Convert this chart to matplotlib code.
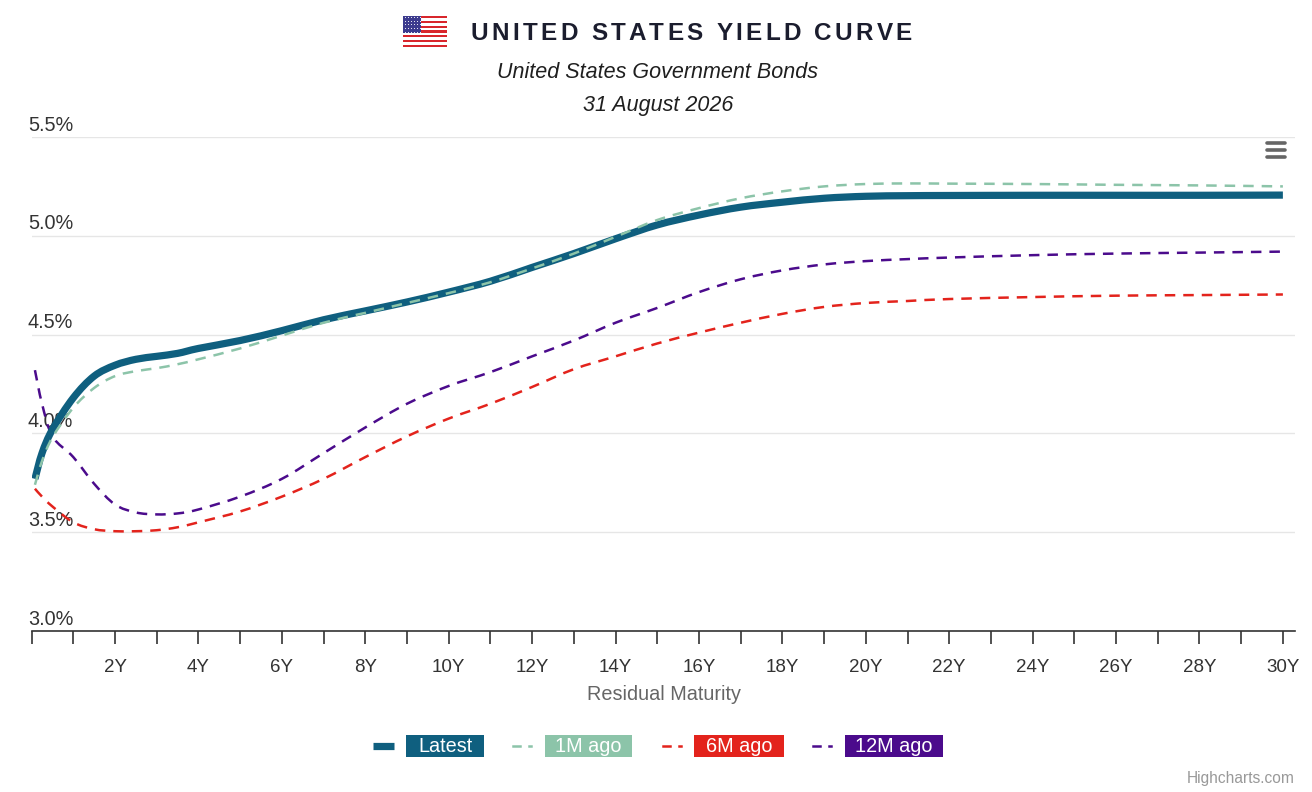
import matplotlib
matplotlib.use("Agg")
import matplotlib.pyplot as plt
from matplotlib.patches import Rectangle, PathPatch
from matplotlib.lines import Line2D
from matplotlib.path import Path
import numpy as np

# ---------------- data ----------------
maturity = [0.08, 0.25, 0.5, 1, 1.5, 2, 2.5, 3, 3.5, 4, 5, 6, 7, 8, 9, 10, 11, 12, 13, 14, 15,
            16, 17, 18, 19, 20, 21, 22, 24, 26, 28, 30]
latest = [3.77, 3.90, 4.02, 4.18, 4.29, 4.345, 4.375, 4.39, 4.405, 4.43, 4.47, 4.52, 4.575, 4.62,
          4.665, 4.715, 4.77, 4.84, 4.91, 4.985, 5.055, 5.105, 5.145, 5.17, 5.19, 5.20, 5.203,
          5.204, 5.205, 5.205, 5.205, 5.206]
m1_ago = [3.74, 3.86, 3.98, 4.13, 4.23, 4.29, 4.315, 4.33, 4.35, 4.375, 4.43, 4.495, 4.56, 4.61,
          4.66, 4.71, 4.765, 4.835, 4.91, 4.995, 5.08, 5.14, 5.19, 5.225, 5.25, 5.262, 5.265,
          5.264, 5.262, 5.258, 5.255, 5.25]
m6_ago = [3.72, 3.68, 3.63, 3.55, 3.515, 3.505, 3.505, 3.51, 3.525, 3.55, 3.605, 3.68, 3.77, 3.88,
          3.985, 4.075, 4.15, 4.235, 4.325, 4.39, 4.455, 4.51, 4.56, 4.605, 4.64, 4.66, 4.67,
          4.68, 4.69, 4.697, 4.70, 4.703]
m12_ago = [4.32, 4.15, 3.985, 3.88, 3.745, 3.64, 3.60, 3.59, 3.595, 3.615, 3.68, 3.77, 3.90, 4.03,
           4.15, 4.24, 4.31, 4.39, 4.47, 4.56, 4.635, 4.715, 4.78, 4.825, 4.855, 4.872, 4.882,
           4.89, 4.902, 4.91, 4.915, 4.92]

series_names = ["Latest", "1M ago", "6M ago", "12M ago"]
series_colors = ["#0f5f7f", "#8cc4a9", "#e3231c", "#4b0b8c"]
y_ticks = [3.0, 3.5, 4.0, 4.5, 5.0, 5.5]
x_ticks = list(range(0, 31))
x_labels = ["" if (t == 0 or t % 2) else f"{t}Y" for t in x_ticks]

title = "UNITED STATES YIELD CURVE"
subtitle1 = "United States Government Bonds"
subtitle2 = "31 August 2026"

# ---------------- figure ----------------
W, H = 1312, 792
fig = plt.figure(figsize=(W / 100, H / 100), dpi=100)
fig.patch.set_facecolor("white")

def fx(px):
    return px / W

def fy(py):
    return 1 - py / H

ax = fig.add_axes([fx(31.6), fy(631), fx(1295.4) - fx(31.6), fy(137) - fy(631)])
ax.set_xlim(0, 30.3)
ax.set_ylim(3.0, 5.5)

for v in y_ticks:
    ax.axhline(v, color="#e6e6e6", lw=1, zorder=0)
    ax.text(-0.003, v + 0.012, f"{v:.1f}%", transform=ax.get_yaxis_transform(),
            ha="left", va="bottom", fontsize=14.3, color="#333333",
            family="Liberation Sans", zorder=1)


def spline_path(xs, ys):
    """Smooth spline (Catmull-Rom as cubic Bezier) through the data points."""
    pts = np.column_stack([xs, ys]).astype(float)
    n = len(pts)
    verts = [pts[0]]
    codes = [Path.MOVETO]
    for i in range(n - 1):
        p0 = pts[i - 1] if i > 0 else pts[i]
        p3 = pts[i + 2] if i + 2 < n else pts[i + 1]
        c1 = pts[i] + (pts[i + 1] - p0) / 6.0
        c2 = pts[i + 1] - (p3 - pts[i]) / 6.0
        verts += [c1, c2, pts[i + 1]]
        codes += [Path.CURVE4] * 3
    return Path(np.array(verts), codes)


dash = (0, (4.2, 3.2))
series = [latest, m1_ago, m6_ago, m12_ago]
styles = [
    dict(lw=5.2, ls="-", z=4),
    dict(lw=1.8, ls=dash, z=5),
    dict(lw=1.8, ls=dash, z=3),
    dict(lw=1.8, ls=dash, z=3),
]
for vals, c, st in zip(series, series_colors, styles):
    patch = PathPatch(spline_path(maturity, vals), fill=False, edgecolor=c, lw=st["lw"],
                      ls=st["ls"], zorder=st["z"], capstyle="butt", joinstyle="round")
    ax.add_patch(patch)

ax.set_yticks([])
for s in ["left", "right", "top"]:
    ax.spines[s].set_visible(False)
ax.spines["bottom"].set_color("#333333")
ax.spines["bottom"].set_linewidth(1.2)
ax.set_xticks(x_ticks)
ax.set_xticklabels(x_labels, fontsize=13.5, color="#333333", family="Liberation Sans")
ax.tick_params(axis="x", length=9, width=1.2, color="#333333", pad=11)
ax.set_xlabel("Residual Maturity", fontsize=14.3, color="#666666", family="Liberation Sans",
              labelpad=7)

# ---------------- title with letter spacing ----------------
renderer = fig.canvas.get_renderer()
tprops = dict(fontsize=17.5, fontweight="bold", color="#1b1d2e", family="Liberation Sans",
              va="center", ha="left")
widths = []
for ch in title:
    if ch == " ":
        widths.append(None)
        continue
    t = fig.text(0, 0, ch, **tprops)
    widths.append(t.get_window_extent(renderer).width)
    t.remove()
space_w = 7.0
total_chars = sum(w for w in widths if w is not None) + space_w * widths.count(None)
x0, x1 = 471, 912
gap = (x1 - x0 - total_chars) / (len(title) - 1)
x = x0
for ch, w in zip(title, widths):
    if w is None:
        x += space_w + gap
        continue
    fig.text(fx(x), fy(33), ch, **tprops)
    x += w + gap

fig.text(fx(658), fy(72), subtitle1, ha="center", va="center", fontsize=15.5, style="italic",
         color="#1f1f1f", family="Liberation Sans")
fig.text(fx(658), fy(105), subtitle2, ha="center", va="center", fontsize=15.5, style="italic",
         color="#1f1f1f", family="Liberation Sans")

# ---------------- flag ----------------
fax = fig.add_axes([fx(403), fy(47), fx(447) - fx(403), fy(16) - fy(47)])
fax.set_xlim(0, 1)
fax.set_ylim(0, 13)
fax.axis("off")
for i in range(13):
    fax.add_patch(Rectangle((0, i), 1, 1, color="#d8262c" if i % 2 == 0 else "white", lw=0))
fax.add_patch(Rectangle((0, 6), 0.42, 7, color="#3c3b8e", lw=0))
sx, sy = np.meshgrid(np.linspace(0.04, 0.38, 6), np.linspace(6.5, 12.5, 5))
fax.scatter(sx.ravel(), sy.ravel(), s=0.6, color="white", lw=0)

# ---------------- hamburger menu ----------------
for py in [143, 150, 157]:
    fig.add_artist(Line2D([fx(1267), fx(1285)], [fy(py), fy(py)], color="#666666", lw=2.6,
                          solid_capstyle="round"))

# ---------------- legend ----------------
legend_items = [
    (373, 394, 406, 484),
    (513, 531, 545, 632),
    (663, 681, 694, 784),
    (813, 831, 845, 943),
]
ly = 746
for i, (s0, s1, b0, b1) in enumerate(legend_items):
    c = series_colors[i]
    if i == 0:
        fig.add_artist(Line2D([fx(s0), fx(s1)], [fy(ly), fy(ly)], color=c, lw=5.2,
                              solid_capstyle="butt"))
    else:
        fig.add_artist(Line2D([fx(s0), fx(s0 + 7)], [fy(ly), fy(ly)], color=c, lw=1.8))
        fig.add_artist(Line2D([fx(s1 - 2), fx(s1)], [fy(ly), fy(ly)], color=c, lw=1.8))
    fig.add_artist(Rectangle((fx(b0), fy(ly + 11)), fx(b1) - fx(b0), fy(ly - 11) - fy(ly + 11),
                             transform=fig.transFigure, color=c, lw=0))
    fig.text(fx((b0 + b1) / 2), fy(ly), series_names[i], ha="center", va="center",
             fontsize=14.3, color="white", family="Liberation Sans")

fig.text(fx(1295), fy(778), "Highcharts.com", ha="right", va="center", fontsize=11.2,
         color="#999999", family="Liberation Sans")

fig.savefig("out.png", dpi=100, facecolor="white")
